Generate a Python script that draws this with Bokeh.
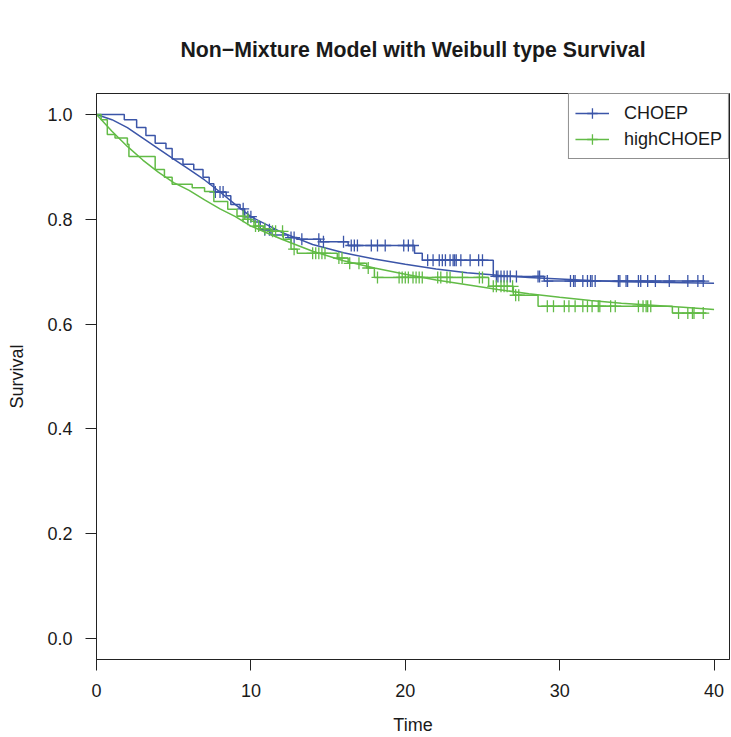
import numpy as np
from bokeh.plotting import figure
from bokeh.models import (Range1d, FixedTicker, NumeralTickFormatter, Legend,
                          LegendItem)
from bokeh.embed import file_html
from bokeh.resources import INLINE

# ---------------- data ----------------
# Kaplan-Meier step curves: event times and survival after each event
choep_times = [1.8, 2.6, 3.2, 3.8, 4.5, 4.9, 5.6, 6.3, 6.9, 7.3, 7.6, 8.4, 8.7,
               9.3, 9.6, 10.2, 10.6, 11.3, 12.4, 13.0, 14.5, 16.3, 20.6, 21.1,
               25.7, 29.0]
choep_surv = [0.99, 0.975, 0.96, 0.945, 0.935, 0.915, 0.905, 0.895, 0.88, 0.868,
              0.852, 0.845, 0.828, 0.82, 0.805, 0.795, 0.78, 0.77, 0.765, 0.762,
              0.757, 0.750, 0.735, 0.722, 0.691, 0.682]
choep_end = 39.4
choep_cens = [7.7, 8.0, 8.2, 9.5, 9.8, 10.0, 10.9, 11.2, 12.6, 12.8, 13.3, 14.4,
              14.7, 16.0, 16.5, 16.7, 16.9, 17.8, 18.2, 18.7, 19.9, 20.2, 20.5,
              21.45, 21.8, 22.2, 22.4, 22.6, 22.9, 23.1, 23.2, 23.3, 23.6, 24.2,
              24.75, 25.0, 25.9, 26.0, 26.2, 26.4, 26.6, 26.8, 27.2, 28.6, 28.7,
              29.2, 30.7, 30.9, 31.0, 31.5, 31.8, 32.0, 32.1, 32.3, 33.8, 33.9,
              34.3, 34.4, 35.1, 35.25, 35.7, 36.2, 37.1, 38.3, 38.95, 39.3]

high_times = [0.3, 0.7, 1.2, 2.0, 2.1, 3.8, 4.4, 4.9, 6.2, 7.0, 7.6, 8.5, 9.1,
              9.6, 10.0, 10.2, 10.8, 11.3, 12.1, 12.6, 13.0, 15.6, 16.3, 17.5,
              18.0, 25.4, 27.0, 28.6, 37.3]
high_surv = [0.99, 0.962, 0.955, 0.943, 0.92, 0.895, 0.88, 0.867, 0.86, 0.853,
             0.834, 0.819, 0.806, 0.80, 0.796, 0.787, 0.782, 0.777, 0.762, 0.743,
             0.735, 0.726, 0.716, 0.707, 0.689, 0.672, 0.655, 0.634, 0.621]
high_end = 39.5
high_cens = [9.5, 9.8, 10.3, 10.5, 10.9, 11.4, 11.6, 12.05, 12.8, 14.0, 14.2,
             14.4, 14.6, 14.8, 15.7, 15.9, 16.4, 17.0, 17.6, 18.2, 19.6, 19.8,
             20.0, 20.2, 20.5, 20.7, 20.9, 21.1, 22.1, 22.3, 22.7, 22.9, 23.7,
             24.8, 25.0, 25.7, 25.9, 26.2, 26.4, 26.6, 26.95, 27.15, 27.35, 29.2,
             29.6, 30.3, 30.6, 31.0, 31.5, 31.8, 32.1, 32.5, 32.6, 33.3, 33.6,
             35.1, 35.4, 35.6, 35.7, 35.9, 37.7, 38.3, 38.6, 38.7, 39.3]

# fitted non-mixture Weibull survival curves
fit_t = [0, 1, 2, 3, 4, 5, 6, 7, 8, 9, 10, 12, 14, 16, 18, 20, 22, 24, 26, 28,
         30, 32, 34, 36, 38, 40]
choep_fit = [1.0, 0.99, 0.975, 0.955, 0.935, 0.915, 0.895, 0.875, 0.852, 0.828,
             0.805, 0.775, 0.752, 0.736, 0.724, 0.714, 0.705, 0.698, 0.693,
             0.689, 0.686, 0.683, 0.681, 0.680, 0.679, 0.678]
high_fit = [1.0, 0.968, 0.939, 0.913, 0.89, 0.87, 0.855, 0.837, 0.82, 0.805,
            0.787, 0.762, 0.739, 0.721, 0.707, 0.695, 0.684, 0.675, 0.666,
            0.658, 0.651, 0.645, 0.640, 0.636, 0.632, 0.628]

labels = ["CHOEP", "highCHOEP"]
colors = ["#3B55A8", "#62BB46"]
x_ticks = [0, 10, 20, 30, 40]
y_ticks = [0.0, 0.2, 0.4, 0.6, 0.8, 1.0]

# ---------------- figure ----------------
p = figure(width=731, height=737, output_backend="svg", toolbar_location=None,
           x_range=Range1d(0, 41.0), y_range=Range1d(-0.04, 1.04),
           min_border_left=96, min_border_right=2, min_border_top=93,
           min_border_bottom=78,
           title="Non\u2212Mixture Model with Weibull type Survival")
p.xgrid.visible = False
p.ygrid.visible = False
p.outline_line_color = "#222222"
p.outline_line_width = 1
p.background_fill_color = "white"
p.border_fill_color = "white"

FONT = "Liberation Sans"
p.title.text_font = FONT
p.title.text_font_size = "21.3px"
p.title.text_font_style = "bold"
p.title.align = "center"
p.title.text_color = "#1a1a1a"
p.title.standoff = 64

for ax in (p.xaxis[0], p.yaxis[0]):
    ax.axis_line_color = "#222222"
    ax.major_tick_line_color = "#222222"
    ax.major_tick_out = 11
    ax.major_tick_in = 0
    ax.minor_tick_line_color = None
    ax.major_label_text_font = FONT
    ax.major_label_text_font_size = "18px"
    ax.major_label_text_color = "#1a1a1a"
    ax.axis_label_text_font = FONT
    ax.axis_label_text_font_size = "18px"
    ax.axis_label_text_font_style = "normal"
    ax.axis_label_text_color = "#1a1a1a"

p.xaxis.ticker = FixedTicker(ticks=x_ticks)
p.yaxis.ticker = FixedTicker(ticks=y_ticks)
p.yaxis.formatter = NumeralTickFormatter(format="0.0")
p.xaxis.axis_label = "Time"
p.yaxis.axis_label = "Survival"
p.xaxis.major_label_standoff = 13
p.yaxis.major_label_standoff = 13
p.xaxis.axis_label_standoff = 15
p.yaxis.axis_label_standoff = 17


def km_level(times, surv, t):
    idx = np.searchsorted(np.asarray(times), np.asarray(t), side="right")
    levels = np.concatenate([[1.0], np.asarray(surv)])
    return levels[idx]


items = []
groups = [
    (choep_times, choep_surv, choep_end, choep_cens, choep_fit),
    (high_times, high_surv, high_end, high_cens, high_fit),
]
for (times, surv, end, cens, fit), lab, col in zip(groups, labels, colors):
    xs = [0.0] + list(times) + [end]
    ys = [1.0] + list(surv) + [surv[-1]]
    r_step = p.step(xs, ys, mode="after", line_color=col, line_width=1.5)
    p.line(fit_t, fit, line_color=col, line_width=1.5)
    cy = km_level(times, surv, cens)
    r_c = p.scatter(cens, cy, marker="cross", size=12, line_color=col,
                    line_width=1.3)
    items.append(LegendItem(label=lab, renderers=[r_step, r_c]))

legend = Legend(items=items, location="top_right")
legend.margin = 0
legend.padding = 6
legend.spacing = 0
legend.glyph_width = 34
legend.glyph_height = 26
legend.label_height = 26
legend.label_standoff = 15
legend.label_text_font = FONT
legend.label_text_font_size = "18px"
legend.label_text_color = "#1a1a1a"
legend.border_line_color = "#222222"
legend.border_line_width = 1
legend.background_fill_alpha = 1
p.add_layout(legend)

open("out.html", "w").write(file_html(p, INLINE))
